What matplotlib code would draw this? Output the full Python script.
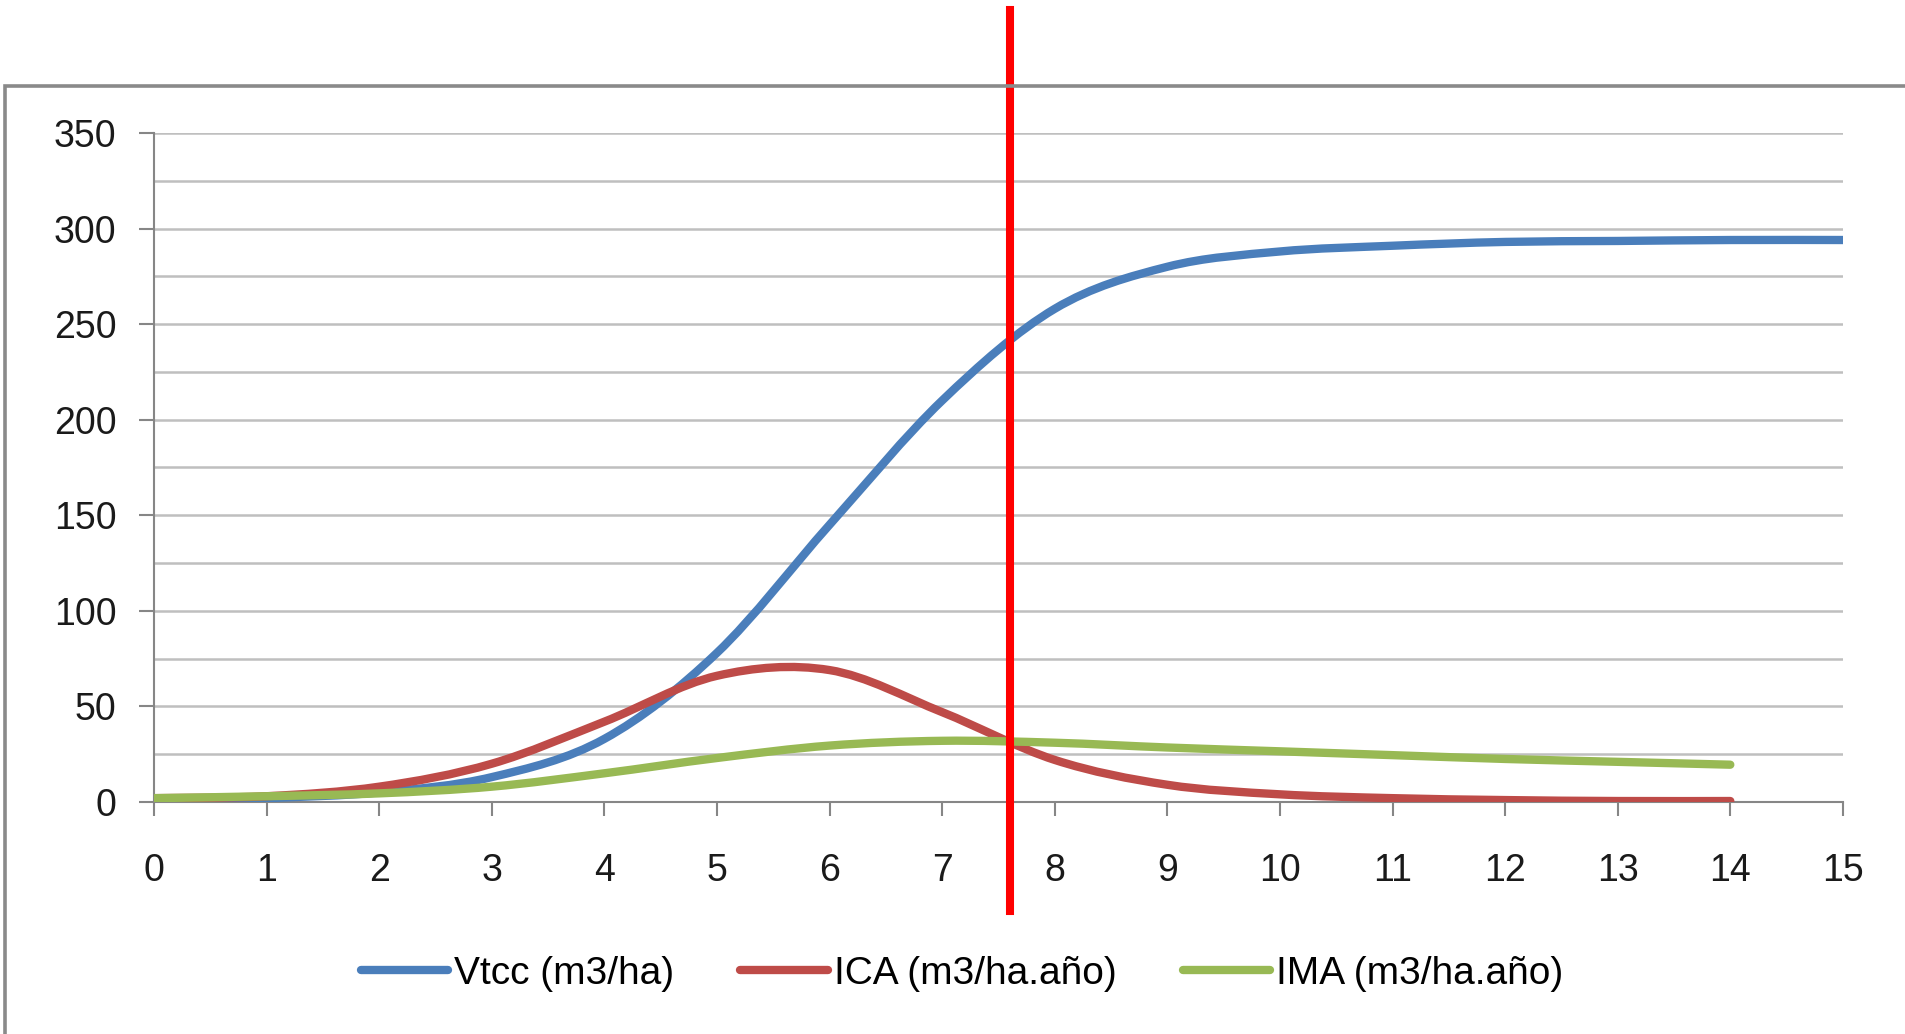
import numpy as np
import matplotlib
matplotlib.use("Agg")
import matplotlib.pyplot as plt
from matplotlib.path import Path
from matplotlib.patches import PathPatch, Rectangle
from matplotlib.lines import Line2D

# Data
ages = [0, 1, 2, 3, 4, 5, 6, 7, 8, 9, 10, 11, 12, 13, 14, 15]
vtcc = [0, 2, 5, 13, 33, 78, 145, 210, 258, 280, 288, 291, 293, 293.5, 294, 294]
ica = [2, 3, 8, 20, 42, 66, 69, 47, 22, 9, 4, 2, 1, 0.5, 0.5]
ima = [2, 3, 4.5, 8, 15, 23, 29.5, 32, 31, 28.5, 26.5, 24.5, 22.5, 21, 19.5]
cutoff_age = 7.6

labels = ['Vtcc (m3/ha)', 'ICA (m3/ha.año)', 'IMA (m3/ha.año)']
colors = ['#4A7EBB', '#BE4B48', '#98B954']

plt.rcParams['font.family'] = ['Liberation Sans', 'DejaVu Sans']


def smooth_path(x, y):
    """Excel-like smoothed line: Catmull-Rom segments as cubic Bezier curves."""
    pts = np.column_stack([x, y]).astype(float)
    n = len(pts)
    verts = [pts[0]]
    codes = [Path.MOVETO]
    for i in range(n - 1):
        p0 = pts[i - 1] if i > 0 else pts[i]
        p1 = pts[i]
        p2 = pts[i + 1]
        p3 = pts[i + 2] if i + 2 < n else pts[i + 1]
        c1 = p1 + (p2 - p0) / 6.0
        c2 = p2 - (p3 - p1) / 6.0
        verts += [c1, c2, p2]
        codes += [Path.CURVE4] * 3
    return Path(verts, codes)


fig = plt.figure(figsize=(19.05, 10.34), dpi=100)
ax = fig.add_axes([0.0808, 0.2244, 0.8866, 0.647])

grid_color = '#BFBFBF'
axis_color = '#868686'

series = [vtcc, ica, ima]
for vals, col in zip(series, colors):
    patch = PathPatch(smooth_path(ages[:len(vals)], vals), facecolor='none',
                      edgecolor=col, lw=6.0, capstyle='round', joinstyle='round', zorder=3)
    ax.add_patch(patch)

ax.set_xlim(0, 15)
ax.set_ylim(0, 350)
ax.set_xticks(range(0, 16))
ax.set_yticks(range(0, 351, 50))
ax.set_yticks(range(25, 351, 50), minor=True)
ax.grid(True, which='both', axis='y', color=grid_color, lw=1.8, zorder=0)
ax.tick_params(axis='y', which='minor', length=0)
ax.tick_params(axis='y', which='major', length=11, width=1.5, color=axis_color,
               pad=16, labelsize=27, labelcolor='#1a1a1a')
ax.tick_params(axis='x', which='major', length=10, width=1.5, color=axis_color,
               pad=27, labelsize=27, labelcolor='#1a1a1a')
for side in ['top', 'right']:
    ax.spines[side].set_visible(False)
for side in ['left', 'bottom']:
    ax.spines[side].set_color(axis_color)
    ax.spines[side].set_linewidth(1.5)
    ax.spines[side].set_zorder(2)

# Red vertical marker line, extending outside the plot area
ax.axvline(cutoff_age, ymin=-0.163, ymax=1.184, color='#FF0000', lw=5.8,
           clip_on=False, zorder=5)

# Outer chart frame (cropped at right and bottom)
fig.add_artist(Rectangle((0.0026, -0.1), 1.2, 1.1 - 86 / 1034, transform=fig.transFigure,
                         facecolor='none', edgecolor='#8A8A8A', lw=2.6, clip_on=False))

handles = [Line2D([], [], color=c, lw=6.0, solid_capstyle='round') for c in colors]
fig.legend(handles, labels, loc='center', bbox_to_anchor=(962 / 1905, 1 - 974 / 1034),
           ncol=3, frameon=False, fontsize=28, handlelength=2.25, handletextpad=0.15,
           columnspacing=1.7)

fig.savefig('out.png', dpi=100, facecolor='white')
